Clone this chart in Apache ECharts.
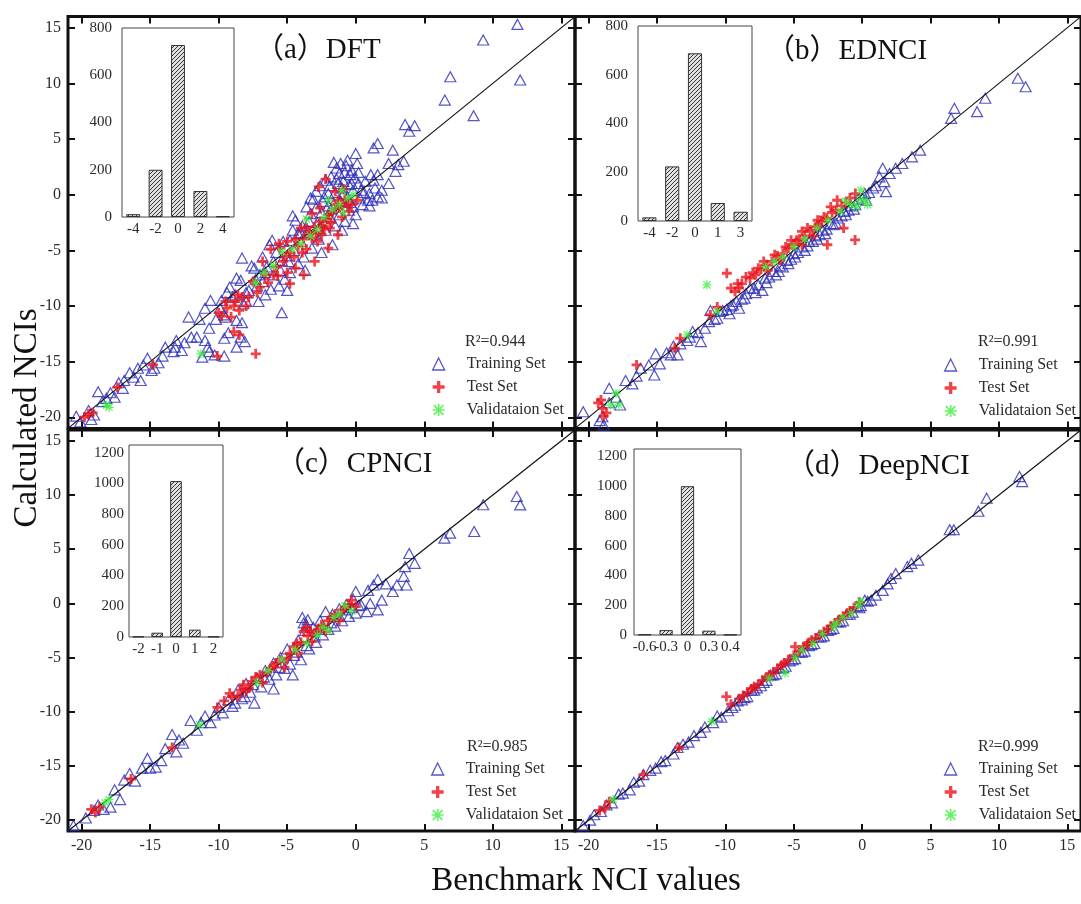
<!DOCTYPE html>
<html>
<head>
<meta charset="utf-8">
<script src="https://cdn.jsdelivr.net/npm/echarts@6.0.0/dist/echarts.min.js"></script>
<style>
  html, body { margin: 0; padding: 0; background: #fff; }
  #chart { width: 1081px; height: 904px; }
</style>
</head>
<body>
<div id="chart"></div>
<script>
// ---- axis ticks shared by all four parity panels ----
const mainTicks = [-20, -15, -10, -5, 0, 5, 10, 15];

// ---- (a) DFT ----
const trainA = [
  [-20.4,-19.9],[-20.1,-20.4],[-19.5,-19.4],[-19.1,-19.8],[-19.3,-20.2],[-18.8,-17.7],[-18.5,-18.6],[-18.2,-18.3],[-17.9,-17.8],[-17.6,-18.2],
  [-17.3,-16.9],[-17.0,-17.4],[-16.9,-16.7],[-16.5,-16.0],[-16.2,-16.4],[-15.7,-16.7],[-15.9,-15.6],[-15.5,-15.3],[-15.2,-14.7],[-14.9,-15.8],
  [-14.7,-15.6],[-14.4,-15.1],[-14.1,-14.5],[-13.9,-13.7],[-13.3,-14.1],[-13.2,-13.7],[-13.1,-13.1],[-12.7,-14.0],[-12.5,-13.3],[-12.0,-12.8],
  [-11.6,-12.8],[-11.2,-14.6],[-11.0,-13.1],[-10.8,-13.7],[-10.7,-14.1],[-11.4,-11.2],[-11.0,-10.2],[-12.2,-11.0],[-10.7,-12.0],[-10.6,-9.5],
  [-10.3,-14.4],[-9.9,-10.2],[-9.8,-9.5],[-9.6,-14.5],[-9.6,-12.9],[-9.5,-11.0],[-9.3,-12.4],[-9.2,-8.3],[-9.0,-9.2],[-9.4,-8.8],
  [-8.7,-7.5],[-8.7,-11.3],[-8.7,-13.7],[-8.4,-7.7],[-8.4,-12.8],[-8.3,-11.5],[-8.3,-5.7],[-8.1,-13.2],[-8.0,-8.8],[-8.2,-9.8],
  [-7.8,-8.6],[-7.6,-6.4],[-7.4,-6.6],[-7.2,-8.2],[-7.1,-9.6],[-7.0,-7.2],[-6.8,-7.8],[-6.8,-5.6],[-6.6,-9.0],[-6.5,-6.5],
  [-6.3,-4.5],[-6.2,-8.5],[-6.1,-4.1],[-6.0,-7.2],[-5.8,-5.2],[-5.6,-8.2],[-5.5,-6.8],[-5.4,-10.6],[-5.3,-4.2],[-5.2,-7.6],
  [-5.0,-8.6],[-5.0,-5.5],[-4.9,-6.0],[-4.8,-7.0],[-4.6,-3.2],[-4.6,-1.9],[-4.5,-5.0],[-4.4,-2.3],[-4.2,-6.2],[-4.2,-3.5],
  [-4.0,-4.2],[-3.9,-2.8],[-3.8,-5.6],[-3.7,-6.8],[-3.6,-1.1],[-3.5,-3.2],[-3.3,-1.7],[-3.3,-0.3],[-3.2,-4.8],[-3.1,-0.4],
  [-3.0,-3.6],[-2.9,0.3],[-2.8,-2.5],[-2.7,-4.0],[-2.6,0.8],[-2.5,-5.2],[-2.5,-1.6],[-2.4,-0.6],[-2.2,-3.2],[-2.2,1.3],
  [-2.0,0.1],[-2.0,-1.0],[-1.9,-2.0],[-1.8,1.6],[-1.7,-4.5],[-1.6,2.9],[-1.6,-0.8],[-1.5,0.2],[-1.5,-2.8],[-1.4,2.4],
  [-1.3,1.0],[-1.2,1.9],[-1.2,-1.8],[-1.1,-0.6],[-1.0,0.6],[-1.0,-3.2],[-0.9,1.2],[-0.8,2.0],[-0.8,-2.4],[-0.7,2.6],
  [-0.6,3.1],[-0.6,-0.2],[-0.5,0.9],[-0.5,-1.4],[-0.4,-0.7],[-0.3,2.2],[-0.3,1.0],[-0.2,0.4],[-0.2,-2.6],[-0.1,1.5],
  [0.0,3.7],[0.0,-1.8],[0.1,2.8],[0.2,1.0],[0.3,-0.3],[0.4,0.4],[0.5,-0.9],[0.7,1.2],[0.9,-0.5],[1.0,0.1],
  [1.0,-1.0],[1.2,-0.5],[1.3,1.3],[1.3,4.2],[1.4,0.6],[1.6,1.8],[1.6,-0.2],[1.6,4.6],[1.9,0.4],[1.9,-0.3],
  [2.4,1.0],[2.4,2.8],[2.7,4.0],[2.9,2.1],[3.1,2.7],[3.5,3.0],[3.6,6.3],[3.9,5.7],[4.3,6.2],[6.5,8.5],
  [6.9,10.6],[8.6,7.1],[9.3,13.9],[11.8,15.3],[12.0,10.3],
  [-1.9,0.8],[-1.4,1.4],[-0.9,0.1],[-0.4,1.8],[0.2,2.0],[-2.3,-0.2],[-1.8,-1.3],[-2.9,-1.2],[-3.4,-2.4],[-4.0,-3.4],
  [-4.8,-4.1],[-5.4,-5.9],[-6.0,-6.0],[-6.6,-7.0],[-7.3,-7.6],[-8.0,-9.6],[-8.8,-9.0],[-9.6,-10.8],[-10.2,-11.2],[-0.2,-1.1],
  [0.6,0.2],[1.1,1.8],[-1.1,2.8],[-2.7,-3.0]
];
const testA = [
  [-19.8,-20.0],[-19.5,-19.7],[-19.2,-19.6],[-17.4,-17.3],[-14.8,-15.3],[-10.1,-14.5],[-7.3,-14.3],[-8.9,-12.3],[-8.5,-12.6],[-9.1,-11.0],
  [-10.0,-10.6],[-9.4,-10.2],[-8.5,-10.4],[-8.0,-10.0],[-8.8,-9.6],[-8.3,-9.2],[-7.5,-7.8],[-7.0,-8.3],[-6.4,-7.9],[-6.0,-7.2],
  [-5.8,-6.5],[-5.3,-6.0],[-5.0,-7.0],[-4.8,-8.0],[-4.4,-6.6],[-3.8,-7.2],[-3.0,-6.0],[-6.8,-6.0],[-6.2,-4.9],[-5.6,-4.4],
  [-5.5,-4.8],[-5.0,-4.2],[-4.8,-5.2],[-4.2,-4.6],[-3.8,-4.0],[-3.6,-4.9],[-3.4,-3.5],[-3.2,-1.7],[-3.0,-2.9],[-2.8,-4.2],
  [-2.7,0.7],[-2.6,-2.4],[-2.5,-3.6],[-2.3,-3.1],[-2.2,1.4],[-2.0,-1.8],[-2.0,-4.8],[-1.8,-2.5],[-1.5,0.3],[-1.5,-0.9],
  [-1.3,-3.6],[-1.2,-1.2],[-1.0,-2.0],[-0.9,0.5],[-0.8,-0.4],[-0.5,-1.5],[-0.3,-0.9],[0.1,-0.5],[-4.0,-3.0],
  [-3.6,-3.0],[-3.2,-3.9],[-2.9,-3.4],[-2.4,-2.8],[-2.1,-2.2],[-1.7,-1.6],[-1.3,-0.5],[-1.9,-3.0],[-2.6,-1.2],[-3.9,-5.2],
  [-4.5,-5.6],[-5.1,-5.5],[-5.7,-7.3],[-6.6,-7.2],[-7.2,-8.8],[-7.8,-9.2],[-8.9,-10.0],[-9.5,-9.6],[-9.8,-10.9],[-8.6,-9.0],
  [-4.4,-4.0],[-0.6,-0.9],[-1.0,-1.0]
];
const validA = [
  [-18.2,-18.9],[-18.0,-19.1],[-11.3,-14.3],[-7.3,-7.9],[-6.7,-7.0],[-6.0,-6.4],[-5.4,-5.1],[-4.6,-4.9],[-4.0,-4.4],[-3.6,-2.2],
  [-3.3,-3.7],[-2.8,-3.1],[-2.3,-2.0],[-2.0,-0.5],[-1.7,-1.3],[-1.2,-0.9],[-1.0,0.4],[-0.9,-1.6],[-0.6,-0.3],[-0.2,0.0]
];
const histBinsA = ['-4', '-2', '0', '2', '4'];
const histCountsA = [12, 200, 728, 110, 3];

// ---- (b) EDNCI ----
const trainB = [
  [-20.4,-19.5],[-19.2,-20.3],[-19.0,-19.95],[-18.9,-20.7],[-18.5,-18.7],[-18.5,-17.4],[-18.0,-18.2],[-17.7,-18.9],[-17.3,-16.7],[-16.8,-17.0],
  [-16.5,-16.3],[-16.2,-15.6],[-15.6,-15.3],[-15.2,-16.2],[-15.1,-14.3],[-14.8,-15.2],[-14.3,-14.2],[-13.8,-13.6],[-13.5,-14.4],[-13.3,-13.4],
  [-12.8,-13.1],[-12.4,-12.3],[-12.0,-12.4],[-11.8,-13.2],[-11.2,-11.4],[-11.1,-10.4],[-10.8,-11.2],[-10.6,-11.1],[-10.4,-10.5],[-10.2,-10.4],
  [-9.9,-10.3],[-9.6,-10.0],[-9.45,-9.9],[-9.2,-9.6],[-9.0,-10.2],[-8.8,-9.4],[-8.5,-8.9],[-8.2,-8.4],[-7.8,-8.8],[-7.6,-8.1],
  [-7.3,-8.6],[-7.1,-7.5],[-6.8,-7.4],[-6.5,-6.9],[-6.3,-7.2],[-6.0,-6.4],[-5.8,-6.5],[-5.5,-5.9],[-5.2,-5.8],[-5.0,-5.3],
  [-4.7,-5.2],[-4.4,-4.7],[-4.2,-5.0],[-3.9,-4.2],[-3.6,-4.2],[-3.4,-3.7],[-3.1,-3.6],[-2.9,-3.2],[-2.6,-3.1],[-2.3,-2.6],
  [-2.1,-2.7],[-1.8,-2.1],[-1.5,-1.9],[-1.3,-1.5],[-1.0,-1.4],[-0.8,-1.0],[-0.5,-0.9],[-0.3,-0.4],[0.0,-0.3],[0.2,0.1],
  [0.5,0.2],[0.8,0.6],[1.0,0.8],[1.26,1.6],[1.5,2.37],[1.62,1.17],[1.74,0.27],[2.0,1.9],[2.45,2.37],[2.93,2.8],
  [3.64,3.4],[4.24,4.0],[6.5,6.86],[6.74,7.76],[8.4,7.46],[9.0,8.66],[11.38,10.46],[11.95,9.7],
  [-9.7,-10.7],[-8.6,-9.3],[-7.9,-8.4],[-7.0,-7.9],[-6.1,-6.9],[-5.4,-6.2],[-4.9,-5.6],[-4.0,-4.6],[-3.3,-4.0],[-2.7,-3.5],
  [-1.9,-2.6],[-1.2,-1.8],[-0.6,-1.3],[0.3,-0.5],[-11.5,-12.0],[-12.6,-12.8],[-14.0,-14.4]
];
const testB = [
  [-19.3,-18.7],[-19.1,-18.45],[-19.0,-19.2],[-18.9,-19.9],[-18.7,-19.6],[-16.5,-15.3],[-13.7,-13.8],[-13.3,-12.9],[-11.1,-10.8],[-10.6,-10.1],
  [-9.9,-7.06],[-9.3,-8.7],[-9.0,-8.4],[-8.8,-8.0],[-8.5,-7.4],[-8.2,-7.5],[-7.8,-7.2],[-7.4,-6.7],[-7.2,-6.0],[-7.0,-6.3],
  [-6.9,-6.8],[-6.6,-6.0],[-6.2,-5.5],[-5.8,-5.3],[-5.4,-4.8],[-5.2,-4.1],[-5.0,-4.5],[-4.6,-4.0],[-4.2,-3.7],[-4.0,-3.0],
  [-3.8,-3.2],[-3.6,-3.7],[-3.4,-2.9],[-3.26,-2.3],[-3.0,-2.4],[-2.6,-2.1],[-2.55,-4.5],[-2.3,-1.1],[-2.2,-1.6],[-1.83,-0.5],
  [-1.5,-1.0],[-1.36,-3.0],[-0.9,-0.3],[-0.52,-4.07],[-0.5,0.1],
  [-8.0,-7.0],[-7.6,-6.6],[-6.4,-5.4],[-5.6,-4.7],[-4.8,-4.1],[-4.4,-3.3],[-3.2,-2.7],[-2.8,-2.0],[-1.9,-1.4],[-1.2,-0.7],
  [-9.6,-8.4],[-9.1,-8.0],[-6.0,-5.9],[-4.4,-4.5]
];
const validB = [
  [-18.4,-18.9],[-18.0,-17.85],[-17.8,-18.9],[-12.8,-12.6],[-11.36,-8.1],[-10.6,-10.5],[-7.07,-6.47],[-6.4,-6.0],[-5.8,-5.6],[-5.0,-4.7],
  [-4.2,-4.0],[-3.3,-3.0],[-2.5,-2.3],[-1.6,-1.5],[-1.2,-0.6],[-0.8,-0.9],[-0.4,-1.08],[-0.17,-0.48],[-0.1,0.4],[0.2,-0.5],[0.4,-0.9]
];
const histBinsB = ['-4', '-2', '0', '1', '3'];
const histCountsB = [15, 224, 688, 74, 38];

// ---- (c) CPNCI ----
const trainC = [
  [-20.6,-20.5],[-19.7,-19.8],[-19.1,-19.1],[-18.8,-18.6],[-18.4,-19.0],[-17.9,-18.8],[-17.6,-17.2],[-17.2,-18.1],[-16.9,-16.3],[-16.5,-15.7],
  [-16.1,-16.4],[-15.6,-15.2],[-15.2,-14.3],[-14.6,-15.1],[-14.2,-14.5],[-13.9,-13.4],[-13.4,-12.1],[-13.1,-13.7],[-12.6,-12.9],[-12.05,-10.8],
  [-11.6,-11.7],[-11.0,-10.4],[-10.6,-11.0],[-10.3,-10.3],[-10.0,-9.6],[-9.7,-10.1],[-9.3,-8.9],[-9.0,-9.5],[-8.6,-8.0],[-8.3,-8.8],
  [-8.0,-7.4],[-7.7,-8.2],[-7.4,-9.2],[-7.2,-6.9],[-6.9,-7.7],[-6.6,-6.2],[-6.3,-7.0],[-6.0,-5.5],[-6.0,-7.9],[-5.8,-6.6],
  [-5.5,-5.0],[-5.2,-6.0],[-5.0,-4.2],[-4.8,-5.6],[-4.6,-6.6],[-4.5,-4.8],[-4.2,-3.4],[-4.0,-5.2],[-3.8,-1.8],[-3.7,-2.5],
  [-3.5,-1.5],[-3.4,-4.2],[-3.1,-2.2],[-2.9,-3.6],[-2.6,-1.6],[-2.4,-2.9],[-2.2,-0.76],[-2.0,-2.4],[-1.7,-1.0],[-1.5,-2.1],
  [-1.2,-0.5],[-1.0,-1.6],[-0.7,-0.1],[-0.5,-1.2],[-0.2,0.4],[0.0,1.1],[0.0,-0.9],[0.4,-0.14],[0.8,-0.76],[0.9,1.2],
  [1.05,0.0],[1.3,1.7],[1.6,2.2],[1.6,-0.6],[1.9,0.3],[2.2,1.8],[2.7,1.1],[3.0,1.7],[3.5,2.5],[3.6,3.4],
  [3.7,1.7],[3.9,4.6],[4.3,3.7],[6.47,6.02],[6.88,6.48],[8.64,6.63],[9.3,9.1],[11.75,9.86],[12.0,9.09],
  [-8.8,-9.2],[-8.1,-8.6],[-7.5,-7.5],[-6.7,-6.8],[-5.6,-5.9],[-4.3,-4.5],[-3.6,-3.9],[-3.0,-3.1],[-2.7,-2.4],[-1.8,-1.8],
  [-1.3,-1.2],[-0.8,-0.6],[-0.3,-0.4],[0.2,-0.2],[-3.9,-1.3],[-3.6,-2.0],[-11.3,-11.0],[-12.9,-12.6],[-15.0,-15.2]
];
const testC = [
  [-19.3,-19.0],[-19.0,-19.3],[-18.7,-18.8],[-16.4,-16.2],[-13.4,-13.3],[-10.1,-9.6],[-9.6,-9.0],[-9.2,-8.3],[-8.6,-8.6],[-8.2,-7.5],
  [-8.0,-8.1],[-7.6,-7.2],[-7.0,-6.6],[-6.8,-7.3],[-6.5,-6.4],[-6.0,-5.8],[-5.5,-5.2],[-5.2,-5.9],[-5.0,-5.1],[-4.5,-4.0],
  [-4.2,-4.6],[-4.0,-3.6],[-3.8,-2.6],[-3.5,-3.0],[-3.2,-3.5],[-3.0,-2.7],[-2.5,-2.0],[-2.2,-2.6],[-2.0,-1.6],[-1.5,-1.0],
  [-1.2,-1.6],[-1.0,-0.6],[-0.5,-0.1],[-0.3,0.3],[0.0,-0.3],
  [-7.8,-7.8],[-7.3,-6.8],[-6.2,-6.0],[-5.8,-5.5],[-4.8,-4.6],[-4.3,-3.7],[-3.3,-2.6],[-2.8,-2.5],[-1.8,-1.3],[-0.8,-0.4],
  [-9.0,-8.6],[-8.4,-8.0],[-3.6,-2.2],[-2.4,-2.2]
];
const validC = [
  [-18.3,-18.4],[-18.0,-18.1],[-11.4,-11.2],[-7.2,-7.3],[-6.4,-6.2],[-5.4,-5.2],[-4.4,-4.3],[-3.6,-3.7],[-2.8,-2.9],[-2.4,-2.2],
  [-2.0,-2.5],[-1.6,-1.3],[-1.2,-1.0],[-0.8,-0.2],[-0.3,-0.7]
];
const histBinsC = ['-2', '-1', '0', '1', '2'];
const histCountsC = [3, 28, 1015, 48, 3];

// ---- (d) DeepNCI ----
const trainD = [
  [-20.4,-20.5],[-19.9,-20.0],[-19.6,-19.5],[-19.1,-19.2],[-18.7,-18.6],[-18.3,-18.4],[-17.8,-17.6],[-17.5,-17.5],[-17.0,-17.2],[-16.7,-16.5],
  [-16.3,-16.4],[-16.0,-15.8],[-15.5,-15.4],[-15.1,-15.2],[-14.7,-14.6],[-14.4,-14.5],[-13.8,-13.9],[-13.5,-13.3],[-13.1,-13.0],[-12.7,-12.8],
  [-12.3,-12.2],[-11.8,-11.9],[-11.5,-11.4],[-10.9,-11.0],[-10.6,-10.4],[-10.3,-10.5],[-9.8,-9.9],[-9.5,-9.6],[-9.1,-9.0],[-8.8,-8.9],
  [-8.4,-8.6],[-8.1,-8.0],[-7.7,-7.8],[-7.4,-7.6],[-7.0,-7.1],[-6.7,-6.6],[-6.3,-6.5],[-6.0,-6.0],[-5.6,-5.8],[-5.3,-5.3],
  [-4.9,-5.1],[-4.6,-4.5],[-4.2,-4.4],[-3.9,-3.9],[-3.5,-3.7],[-3.2,-3.1],[-2.8,-3.0],[-2.5,-2.5],[-2.1,-2.3],[-1.8,-1.7],
  [-1.4,-1.6],[-1.1,-1.0],[-0.7,-0.8],[-0.4,-0.3],[-0.1,-0.2],[0.19,0.3],[0.66,0.3],[1.0,0.76],[1.5,1.2],[1.86,1.8],
  [2.1,2.3],[2.45,2.75],[3.3,3.4],[3.6,3.7],[4.1,4.0],[6.4,6.8],[6.7,6.8],[8.5,8.5],[9.1,9.7],[11.5,11.7],[11.7,11.24],
  [-9.3,-9.4],[-8.6,-8.7],[-7.9,-8.0],[-7.2,-7.3],[-6.5,-6.6],[-5.8,-5.9],[-5.1,-5.2],[-4.4,-4.5],[-3.7,-3.8],[-3.0,-3.1],
  [-2.3,-2.4],[-1.6,-1.7],[-0.9,-1.0],[-0.2,-0.4],[0.4,0.2]
];
const testD = [
  [-19.2,-19.1],[-18.8,-18.9],[-18.5,-18.3],[-16.0,-15.8],[-13.4,-13.3],[-9.93,-8.6],[-9.6,-9.3],[-9.0,-8.8],[-8.4,-8.2],[-7.9,-7.7],
  [-7.6,-7.5],[-7.3,-7.1],[-6.8,-6.6],[-6.5,-6.4],[-6.2,-6.0],[-5.7,-5.5],[-5.0,-4.8],[-4.9,-4.0],[-4.6,-4.4],[-4.3,-4.0],
  [-4.0,-3.8],[-3.7,-3.4],[-3.4,-3.2],[-2.8,-2.6],[-2.5,-2.4],[-2.3,-2.1],[-1.7,-1.5],[-1.1,-0.9],[-0.6,-0.4],[-0.2,0.1],
  [-8.7,-8.5],[-8.1,-7.9],[-7.0,-6.8],[-5.9,-5.7],[-5.4,-5.2],[-3.9,-3.6],[-3.1,-2.9],[-2.0,-1.8],[-1.4,-1.2],[-0.9,-0.7]
];
const validD = [
  [-18.2,-18.1],[-11.0,-10.9],[-6.8,-6.9],[-5.64,-6.45],[-4.9,-5.0],[-4.4,-4.3],[-3.6,-3.7],[-2.9,-2.8],[-2.1,-2.2],[-1.9,-1.8],
  [-1.4,-1.3],[-0.8,-0.9],[-0.3,-0.2],[-0.1,0.2]
];
const histBinsD = ['-0.6', '-0.3', '0', '0.3', '0.4'];
const histCountsD = [3, 33, 1000, 29, 2];

// ---- text ----
const panelTitles = ['（a）DFT', '（b）EDNCI', '（c）CPNCI', '（d）DeepNCI'];
const r2Labels = ['R²=0.944', 'R²=0.991', 'R²=0.985', 'R²=0.999'];
const histTicksSmall = [0, 200, 400, 600, 800];
const histTicksLarge = [0, 200, 400, 600, 800, 1000, 1200];

// ---- styling ----
const SERIF = "'Liberation Serif', 'Times New Roman', serif";
const TITLE_FONT = "'Liberation Serif', 'Noto Sans CJK SC', serif";
const BLUE = '#2a2ab8';
const RED = '#e8141c';
const GREEN = '#3ef03e';
const PLUS_PATH = 'path://M3.6,0H6.4V3.6H10V6.4H6.4V10H3.6V6.4H0V3.6H3.6Z';
const STAR_PATH = 'path://M0,4.3H10V5.7H0Z M4.3,0H5.7V10H4.3Z M0.5,1.5L1.5,0.5L9.5,8.5L8.5,9.5Z M8.5,0.5L9.5,1.5L1.5,9.5L0.5,8.5Z';

// hatched fill for the error histograms
const hatch = document.createElement('canvas');
hatch.width = 4; hatch.height = 4;
(function () {
  const c = hatch.getContext('2d');
  c.fillStyle = '#e0e0e0';
  c.fillRect(0, 0, 4, 4);
  c.strokeStyle = '#383838';
  c.lineWidth = 1;
  c.beginPath();
  c.moveTo(-1, 5); c.lineTo(5, -1);
  c.moveTo(-1, 1); c.lineTo(1, -1);
  c.moveTo(3, 5); c.lineTo(5, 3);
  c.stroke();
})();

const panels = [
  { train: trainA, test: testA, valid: validA, bins: histBinsA, counts: histCountsA, histMax: 800, histTicks: histTicksSmall },
  { train: trainB, test: testB, valid: validB, bins: histBinsB, counts: histCountsB, histMax: 800, histTicks: histTicksSmall },
  { train: trainC, test: testC, valid: validC, bins: histBinsC, counts: histCountsC, histMax: 1250, histTicks: histTicksLarge },
  { train: trainD, test: testD, valid: validD, bins: histBinsD, counts: histCountsD, histMax: 1250, histTicks: histTicksLarge }
];

// layout: main parity plots are grids 0-3, inset histograms are grids 4-7
const mainGrids = [
  { left: 68, top: 16.6, width: 507, height: 411.8 },
  { left: 575, top: 16.6, width: 516, height: 411.8 },
  { left: 68, top: 430, width: 507, height: 401 },
  { left: 575, top: 430, width: 516, height: 401 }
];
const insetGrids = [
  { left: 122, top: 28, width: 112, height: 189 },
  { left: 638, top: 26, width: 114, height: 195 },
  { left: 129, top: 445, width: 94, height: 192 },
  { left: 634, top: 449, width: 107, height: 186 }
];
const insetLabelMargin = [10, 10, 5, 7];
const titlePos = [[255, 50], [766, 51], [276, 464], [786, 466]];
const r2Pos = [[465, 342], [978, 342], [467, 747], [978, 747]];
const legendPos = [[427, 350], [939, 351], [426, 755], [939, 755]];

const grid = [];
const xAxis = [];
const yAxis = [];
const series = [];
const legend = [];
const graphic = [];

function mainAxis(gridIndex, position, showLabel) {
  return {
    type: 'value', gridIndex: gridIndex, position: position,
    min: -21, max: 16,
    axisLine: { show: false, onZero: false },
    splitLine: { show: false },
    axisTick: { show: true, inside: true, length: 7, customValues: mainTicks, lineStyle: { color: '#111', width: 2 } },
    axisLabel: {
      show: showLabel, customValues: mainTicks, margin: 7,
      fontFamily: SERIF, fontSize: 16, color: '#2a2a2a'
    }
  };
}

panels.forEach(function (p, i) {
  grid[i] = Object.assign({ show: true, borderColor: '#111', borderWidth: 3, backgroundColor: 'rgba(0,0,0,0)' }, mainGrids[i]);
  grid[4 + i] = Object.assign({ show: true, borderColor: '#444', borderWidth: 1, backgroundColor: '#fff', z: 6 }, insetGrids[i]);

  const bottomRow = i >= 2;
  const leftCol = i % 2 === 0;
  xAxis[2 * i] = mainAxis(i, 'bottom', bottomRow);
  xAxis[2 * i + 1] = mainAxis(i, 'top', false);
  yAxis[2 * i] = mainAxis(i, 'left', leftCol);
  yAxis[2 * i + 1] = mainAxis(i, 'right', false);

  series.push({
    type: 'scatter', name: 'Training Set', xAxisIndex: 2 * i, yAxisIndex: 2 * i,
    data: p.train, symbol: 'triangle', symbolSize: [11, 10],
    itemStyle: { color: 'rgba(0,0,0,0)', borderColor: BLUE, borderWidth: 1.2 },
    z: 2
  });
  series.push({
    type: 'line', name: 'y = x', xAxisIndex: 2 * i, yAxisIndex: 2 * i,
    data: [[-21, -21], [16, 16]], showSymbol: false, symbol: 'none',
    lineStyle: { color: '#111', width: 1.2 }, z: 3
  });
  series.push({
    type: 'scatter', name: 'Test Set', xAxisIndex: 2 * i, yAxisIndex: 2 * i,
    data: p.test, symbol: PLUS_PATH, symbolSize: 10,
    itemStyle: { color: RED, borderWidth: 0 }, z: 4
  });
  series.push({
    type: 'scatter', name: 'Validataion Set', xAxisIndex: 2 * i, yAxisIndex: 2 * i,
    data: p.valid, symbol: STAR_PATH, symbolSize: 9,
    itemStyle: { color: GREEN, borderWidth: 0 }, z: 5
  });

  // inset histogram of prediction errors
  xAxis[8 + i] = {
    type: 'category', gridIndex: 4 + i, data: p.bins,
    axisLine: { show: false }, axisTick: { show: false },
    axisLabel: { fontFamily: SERIF, fontSize: 15, color: '#2a2a2a', margin: 5, interval: 0 },
    z: 7
  };
  yAxis[8 + i] = {
    type: 'value', gridIndex: 4 + i, min: 0, max: p.histMax,
    axisLine: { show: false }, axisTick: { show: false }, splitLine: { show: false },
    axisLabel: {
      customValues: p.histTicks, fontFamily: SERIF, fontSize: 15, color: '#2a2a2a', margin: insetLabelMargin[i],
      formatter: function (v) { return String(v); }
    },
    z: 7
  };
  series.push({
    type: 'bar', name: 'error histogram', xAxisIndex: 8 + i, yAxisIndex: 8 + i,
    data: p.counts, barWidth: '62%',
    itemStyle: { color: { image: hatch, repeat: 'repeat' }, borderColor: '#333', borderWidth: 1 },
    z: 7
  });

  legend.push({
    left: legendPos[i][0], top: legendPos[i][1], orient: 'vertical',
    itemWidth: 12, itemHeight: 12, itemGap: 5, selectedMode: false,
    textStyle: { fontFamily: SERIF, fontSize: 16, color: '#2a2a2a', lineHeight: 18, padding: [0, 0, 0, 17] },
    data: [
      { name: 'Training Set', icon: 'triangle', itemStyle: { color: 'rgba(0,0,0,0)', borderColor: BLUE, borderWidth: 1.3 } },
      { name: 'Test Set', icon: PLUS_PATH, itemStyle: { color: RED, borderWidth: 0 } },
      { name: 'Validataion Set', icon: STAR_PATH, itemStyle: { color: GREEN, borderWidth: 0 } }
    ]
  });

  graphic.push({
    type: 'text', x: titlePos[i][0], y: titlePos[i][1], z: 20,
    style: { text: panelTitles[i], font: '29px ' + TITLE_FONT, fill: '#111',
      align: 'left', verticalAlign: 'middle', textAlign: 'left', textVerticalAlign: 'middle' }
  });
  graphic.push({
    type: 'text', x: r2Pos[i][0], y: r2Pos[i][1], z: 20,
    style: { text: r2Labels[i], font: '16px ' + SERIF, fill: '#2a2a2a',
      align: 'left', verticalAlign: 'middle', textAlign: 'left', textVerticalAlign: 'middle' }
  });
});

graphic.push({
  type: 'text', x: 27, y: 418, rotation: Math.PI / 2, z: 20,
  style: { text: 'Calculated NCIs', font: '33px ' + SERIF, fill: '#111',
    align: 'center', verticalAlign: 'middle', textAlign: 'center', textVerticalAlign: 'middle' }
});
graphic.push({
  type: 'text', x: 586, y: 881, z: 20,
  style: { text: 'Benchmark NCI values', font: '33px ' + SERIF, fill: '#111',
    align: 'center', verticalAlign: 'middle', textAlign: 'center', textVerticalAlign: 'middle' }
});

const chart = echarts.init(document.getElementById('chart'), null, { renderer: 'canvas' });
chart.setOption({
  animation: false,
  backgroundColor: '#fff',
  grid: grid,
  xAxis: xAxis,
  yAxis: yAxis,
  legend: legend,
  series: series,
  graphic: graphic
});
</script>
</body>
</html>
